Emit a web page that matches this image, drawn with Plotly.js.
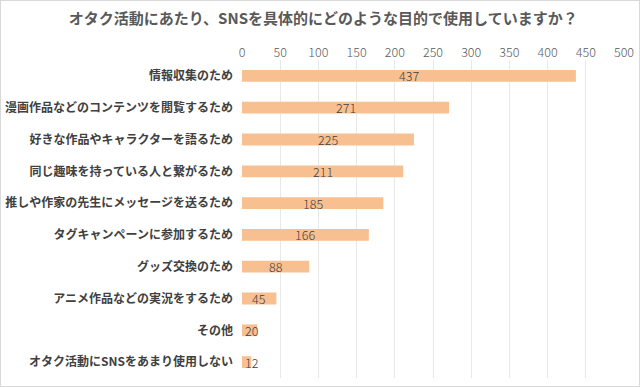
<!DOCTYPE html>
<html>
<head>
<meta charset="utf-8">
<script src="https://cdn.plot.ly/plotly-3.0.1.min.js"></script>
<style>
html,body{margin:0;padding:0;background:#fff;}
#wrap{width:640px;height:387px;box-sizing:border-box;border:1px solid #d9d9d9;overflow:hidden;}
#chart{width:638px;height:385px;}
</style>
</head>
<body>
<div id="wrap"><div id="chart"></div></div>
<script>
const categories = [
  "情報収集のため",
  "漫画作品などのコンテンツを閲覧するため",
  "好きな作品やキャラクターを語るため",
  "同じ趣味を持っている人と繋がるため",
  "推しや作家の先生にメッセージを送るため",
  "タグキャンペーンに参加するため",
  "グッズ交換のため",
  "アニメ作品などの実況をするため",
  "その他",
  "オタク活動にSNSをあまり使用しない"
];
const values = [437, 271, 225, 211, 185, 166, 88, 45, 20, 12];
const xTicks = [0, 50, 100, 150, 200, 250, 300, 350, 400, 450, 500];

const FONT = '"Noto Sans CJK JP", "Noto Sans", sans-serif';

const trace = {
  type: 'bar',
  orientation: 'h',
  x: values,
  y: categories,
  marker: {color: '#F8BF90'},
  hoverinfo: 'none'
};

const annotations = values.map((v, i) => ({
  x: Math.max(v / 2, 13),
  y: categories[i],
  xref: 'x', yref: 'y',
  text: String(v),
  showarrow: false,
  xanchor: 'center',
  yanchor: 'middle',
  font: {family: FONT, size: 12.5, color: '#404040', weight: 300}
}));

const layout = {
  width: 638, height: 385,
  margin: {l: 241, r: 15, t: 59, b: 8},
  paper_bgcolor: '#fff',
  plot_bgcolor: '#fff',
  title: {
    text: 'オタク活動にあたり、SNSを具体的にどのような目的で使用していますか？',
    font: {family: FONT, size: 15, color: '#595959', weight: 'bold'},
    x: 0.505, xanchor: 'center', y: 0.955, yanchor: 'middle'
  },
  bargap: 0.63,
  showlegend: false,
  xaxis: {
    side: 'top',
    range: [0, 500],
    tickvals: xTicks,
    ticktext: xTicks.map(String),
    showgrid: true,
    gridcolor: '#E8E8E8',
    gridwidth: 1,
    zeroline: false,
    showline: false,
    ticks: '',
    tickfont: {family: FONT, size: 12.5, color: '#595959', weight: 300},
    fixedrange: true
  },
  yaxis: {
    autorange: 'reversed',
    type: 'category',
    showgrid: false,
    zeroline: false,
    showline: false,
    ticks: '',
    ticklabelstandoff: 8,
    tickfont: {family: FONT, size: 12, color: '#404040', weight: 'bold'},
    fixedrange: true
  },
  annotations: annotations
};

Plotly.newPlot('chart', [trace], layout, {displayModeBar: false, staticPlot: true});
</script>
</body>
</html>
